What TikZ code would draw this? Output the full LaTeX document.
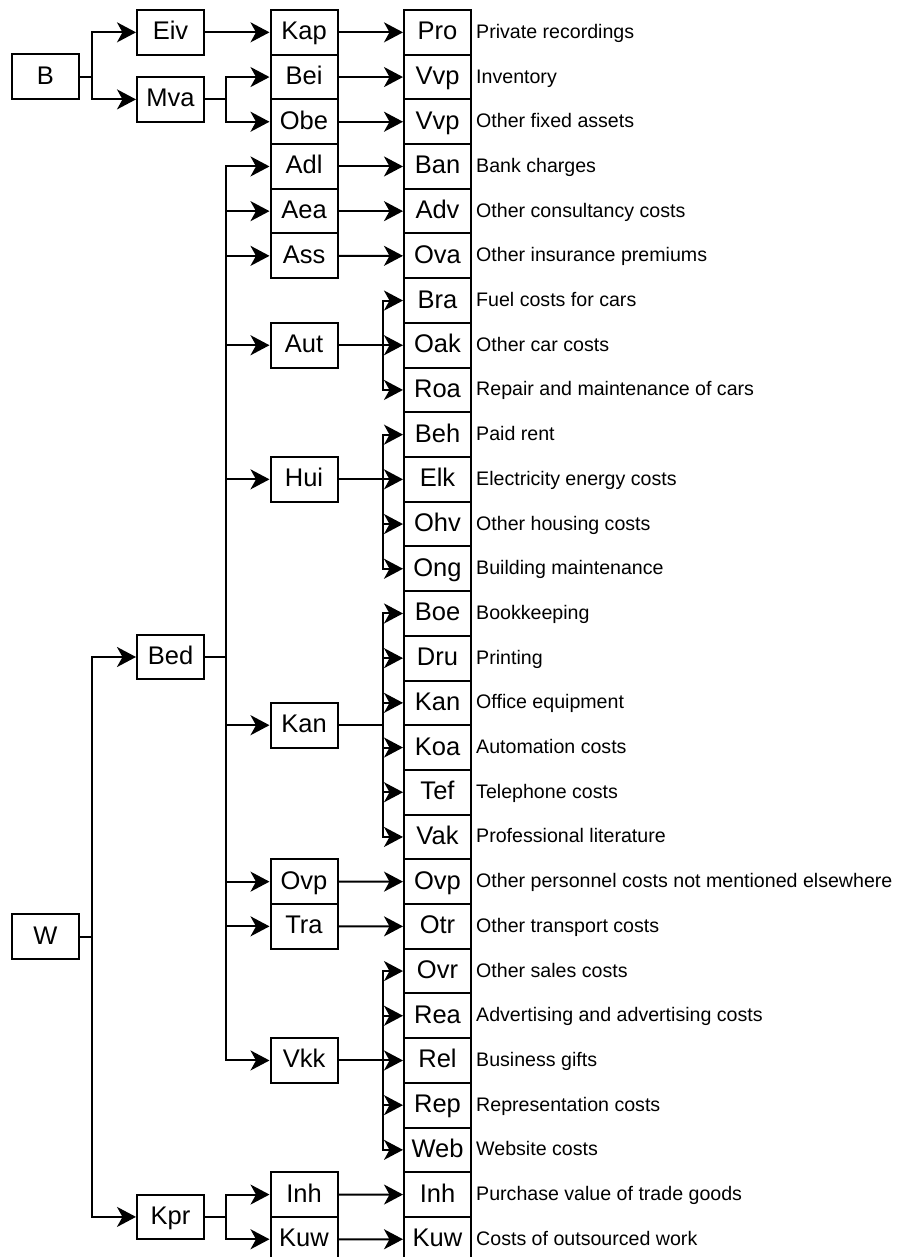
\documentclass[tikz,border=0pt]{standalone}
\usepackage{fontspec}
\setmainfont{Liberation Sans}
\usetikzlibrary{arrows.meta}
\begin{document}
\begin{tikzpicture}[x=1pt,y=-1pt,
  box/.style={draw,line width=2pt,minimum width=67pt,minimum height=44.7pt,inner sep=0pt,
    text height=15pt,text depth=0pt,font=\fontsize{25.5}{30}\selectfont},
  desc/.style={anchor=west,inner sep=0pt,text height=12pt,text depth=0pt,font=\fontsize{19.6}{23}\selectfont},
  arr/.style={line width=2pt,-{Stealth[length=19pt,width=20pt,inset=5.5pt]}},
  ]
\useasboundingbox (0,0) rectangle (905,1257);
\fill[white] (0,0) rectangle (905,1257);
% branch coordinates
\coordinate (bA) at (92,0);
\coordinate (bB) at (226,0);
\coordinate (bC) at (382.5,0);
% column 4 and descriptions
\foreach \i/\lab/\ds in {0/Pro/Private recordings,1/Vvp/Inventory,2/Vvp/Other fixed assets,3/Ban/Bank charges,4/Adv/Other consultancy costs,5/Ova/Other insurance premiums,6/Bra/Fuel costs for cars,7/Oak/Other car costs,8/Roa/Repair and maintenance of cars,9/Beh/Paid rent,10/Elk/Electricity energy costs,11/Ohv/Other housing costs,12/Ong/Building maintenance,13/Boe/Bookkeeping,14/Dru/Printing,15/Kan/Office equipment,16/Koa/Automation costs,17/Tef/Telephone costs,18/Vak/Professional literature,19/Ovp/Other personnel costs not mentioned elsewhere,20/Otr/Other transport costs,21/Ovr/Other sales costs,22/Rea/Advertising and advertising costs,23/Rel/Business gifts,24/Rep/Representation costs,25/Web/Website costs,26/Inh/Purchase value of trade goods,27/Kuw/Costs of outsourced work}{
  \node[box] (r\i) at (437.5,{32.35+44.7*\i}) {\lab};
  \node[desc] (d\i) at (476,{32.35+44.7*\i}) {\ds};
}
% column 3
\node[box] (Kap) at (304,32.35) {Kap};
\node[box] (Bei) at (304,77.05) {Bei};
\node[box] (Obe) at (304,121.75) {Obe};
\node[box] (Adl) at (304,166.45) {Adl};
\node[box] (Aea) at (304,211.15) {Aea};
\node[box] (Ass) at (304,255.85) {Ass};
\node[box] (Aut) at (304,345.25) {Aut};
\node[box] (Hui) at (304,479.35) {Hui};
\node[box] (Kan) at (304,725.2) {Kan};
\node[box] (Ovp) at (304,881.65) {Ovp};
\node[box] (Tra) at (304,926.35) {Tra};
\node[box] (Vkk) at (304,1060.45) {Vkk};
\node[box] (Inh) at (304,1194.55) {Inh};
\node[box] (Kuw) at (304,1239.25) {Kuw};
% column 2
\node[box] (Eiv) at (170.5,32.35) {Eiv};
\node[box] (Mva) at (170.5,99.4) {Mva};
\node[box] (Bed) at (170.5,657) {Bed};
\node[box] (Kpr) at (170.5,1216.9) {Kpr};
% column 1
\node[box] (B) at (45.5,76.7) {B};
\node[box] (W) at (45.5,936.5) {W};
% connectors
\foreach \c in {Eiv,Mva}{\draw[arr] (B.east) -- (B.east -| bA) |- (\c.west);}
\foreach \c in {Bed,Kpr}{\draw[arr] (W.east) -- (W.east -| bA) |- (\c.west);}
\draw[arr] (Eiv) -- (Kap);
\foreach \c in {Bei,Obe}{\draw[arr] (Mva.east) -- (Mva.east -| bB) |- (\c.west);}
\foreach \c in {Adl,Aea,Ass,Aut,Hui,Kan,Ovp,Tra,Vkk}{\draw[arr] (Bed.east) -- (Bed.east -| bB) |- (\c.west);}
\foreach \c in {Inh,Kuw}{\draw[arr] (Kpr.east) -- (Kpr.east -| bB) |- (\c.west);}
\foreach \a/\b in {Kap/r0,Bei/r1,Obe/r2,Adl/r3,Aea/r4,Ass/r5,Ovp/r19,Tra/r20,Inh/r26,Kuw/r27}{\draw[arr] (\a) -- (\b);}
\foreach \b in {r6,r7,r8}{\draw[arr] (Aut.east) -- (Aut.east -| bC) |- (\b.west);}
\foreach \b in {r9,r10,r11,r12}{\draw[arr] (Hui.east) -- (Hui.east -| bC) |- (\b.west);}
\foreach \b in {r13,r14,r15,r16,r17,r18}{\draw[arr] (Kan.east) -- (Kan.east -| bC) |- (\b.west);}
\foreach \b in {r21,r22,r23,r24,r25}{\draw[arr] (Vkk.east) -- (Vkk.east -| bC) |- (\b.west);}
\end{tikzpicture}
\end{document}
